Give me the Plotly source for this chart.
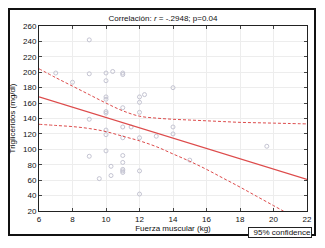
import plotly.graph_objects as go

# scatter data (Fuerza muscular kg, Triglicéridos mg/dl)
fuerza = [9, 7, 8, 9, 10, 10, 10.4, 11, 11, 10, 10, 10, 10, 11, 12, 12, 12, 12.3, 14,
          9, 10, 10, 11, 11, 11.5, 12, 13, 14, 14,
          9, 10, 11, 11, 11, 11, 11, 10.3, 10.3, 9.6, 12, 12, 15, 19.6]
triglic = [242, 199, 187, 198, 199, 189, 201, 199, 197, 168, 165, 149, 147, 154, 168, 161, 148, 171, 180,
           139, 125, 119, 129, 115, 129, 115, 117, 129, 120,
           91, 98, 92, 83, 74, 72, 70, 78, 66, 62, 72, 42, 86, 104]

# regression line endpoints
reg_x = [6, 22]
reg_y = [168, 61]

# 95% confidence bands
ci_x = [6, 7, 8, 9, 10, 11, 12, 13, 14, 15, 16, 17, 18, 19, 20, 21, 22]
ci_up = [204.5, 193, 182, 171, 160, 150, 143, 140.5, 139, 138, 137, 136, 135, 134.5, 134, 133.5, 133]
ci_lo = [132.5, 131, 129.5, 127, 123, 117, 111, 103.5, 94, 84.5, 74, 62.5, 51, 39, 27, 15, 3]

red = "#dd4b4b"
fig = go.Figure()
fig.add_trace(go.Scatter(x=fuerza, y=triglic, mode="markers",
                         marker=dict(symbol="circle-open", size=4, color="#c4c4d2", line=dict(width=1)),
                         showlegend=False))
fig.add_trace(go.Scatter(x=reg_x, y=reg_y, mode="lines", line=dict(color=red, width=1.2), showlegend=False))
fig.add_trace(go.Scatter(x=ci_x, y=ci_up, mode="lines", line=dict(color=red, width=1, dash="3px,2px", shape="spline"),
                         showlegend=False))
fig.add_trace(go.Scatter(x=ci_x, y=ci_lo, mode="lines", line=dict(color=red, width=1, dash="3px,2px", shape="spline"),
                         showlegend=False))

W, H = 325, 248
L, R, T, B = 39, 307, 26, 211
pw, ph = R - L, B - T

def px(x):
    return (x - L) / pw

def py(y):
    return (B - y) / ph

font = dict(family="Liberation Sans, Arial, sans-serif", size=8, color="#111")
fig.update_layout(
    width=W, height=H,
    margin=dict(l=L, r=W - R, t=T, b=H - B, autoexpand=False),
    paper_bgcolor="white", plot_bgcolor="white",
    font=font,
    showlegend=False,
    title=dict(text="Correlación: <i>r</i> = -.2948; p=0.04", x=px(163), xref="paper", xanchor="center",
               y=1 - 18 / H, yanchor="middle", font=dict(size=8)),
    xaxis=dict(range=[6, 22], dtick=2, showgrid=True, gridcolor="#ededed", gridwidth=1,
               showline=True, linecolor="#222", linewidth=1, mirror="ticks", ticks="inside", ticklen=3,
               tickcolor="#444", zeroline=False, tickfont=dict(size=8), automargin=False,
               title=dict(text="Fuerza muscular (kg)", font=dict(size=8), standoff=2)),
    yaxis=dict(range=[20, 260], dtick=20, showgrid=True, gridcolor="#ededed", gridwidth=1,
               showline=True, linecolor="#222", linewidth=1, mirror="ticks", ticks="inside", ticklen=3,
               tickcolor="#444", zeroline=False, tickfont=dict(size=8), automargin=False,
               title=dict(text="Triglicéridos (mg/dl)", font=dict(size=8), standoff=6)),
)

# outer frame
fig.add_shape(type="rect", xref="paper", yref="paper",
              x0=px(9), x1=px(315), y0=py(235), y1=py(9),
              line=dict(color="#111", width=2), fillcolor="rgba(0,0,0,0)", layer="above")

# legend box
fig.add_annotation(xref="paper", yref="paper", x=px(312), y=py(226.5), xanchor="right", yanchor="top",
                   text="95% confidence", showarrow=False, font=dict(size=8),
                   bordercolor="#222", borderwidth=1, borderpad=0, bgcolor="white",
                   width=62, align="right")
fig.add_shape(type="line", xref="paper", yref="paper",
              x0=px(250.5), x1=px(259), y0=py(228.5), y1=py(235),
              line=dict(color=red, width=1))

fig.write_html("out.html", config={"displayModeBar": False},
               post_script="document.body.style.margin='0';document.body.style.overflow='hidden';")
